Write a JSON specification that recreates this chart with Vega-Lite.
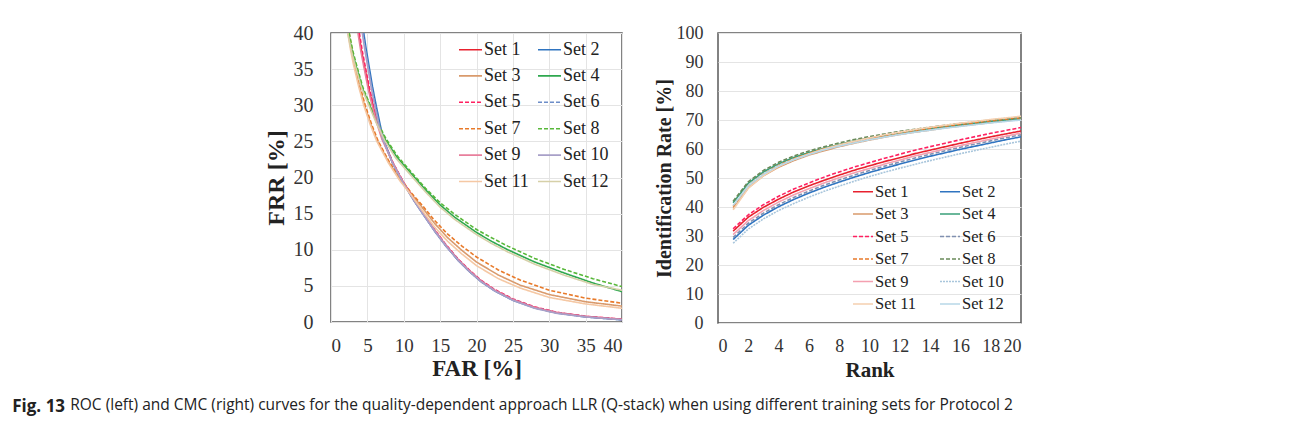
{
"$schema": "https://vega.github.io/schema/vega-lite/v6.json",
"padding": {"left": 12, "top": 22, "right": 5, "bottom": 5},
"background": "white",
"title": {"text": "ROC (left) and CMC (right) curves for the quality-dependent approach LLR (Q-stack) when using different training sets for Protocol 2", "orient": "bottom", "anchor": "start", "font": "Open Sans", "fontSize": 15.5, "fontWeight": "normal", "color": "#222", "offset": 0, "dx": 58, "dy": -16.5},
"datasets": {
"roc": [
{"s":"Set 1","x":3.8,"y":40},{"s":"Set 1","x":4.2,"y":37.5},{"s":"Set 1","x":4.6,"y":35.4},{"s":"Set 1","x":5.2,"y":32.3},{"s":"Set 1","x":5.7,"y":30.2},{"s":"Set 1","x":6.4,"y":27.5},{"s":"Set 1","x":7.1,"y":25.3},{"s":"Set 1","x":8.5,"y":22.0},{"s":"Set 1","x":10,"y":19.2},{"s":"Set 1","x":11.4,"y":16.9},{"s":"Set 1","x":12.8,"y":14.8},{"s":"Set 1","x":14.3,"y":12.6},{"s":"Set 1","x":15.8,"y":10.6},{"s":"Set 1","x":17.5,"y":8.6},{"s":"Set 1","x":19,"y":7.1},{"s":"Set 1","x":20.6,"y":5.7},{"s":"Set 1","x":22.5,"y":4.4},{"s":"Set 1","x":25,"y":3.1},{"s":"Set 1","x":28,"y":2.0},{"s":"Set 1","x":31,"y":1.3},{"s":"Set 1","x":35,"y":0.75},{"s":"Set 1","x":40,"y":0.35},
{"s":"Set 2","x":4.5,"y":40},{"s":"Set 2","x":4.8,"y":38},{"s":"Set 2","x":5.2,"y":35.6},{"s":"Set 2","x":5.7,"y":32.6},{"s":"Set 2","x":6.2,"y":30.0},{"s":"Set 2","x":6.7,"y":27.6},{"s":"Set 2","x":7.2,"y":25.2},{"s":"Set 2","x":8.5,"y":21.9},{"s":"Set 2","x":10,"y":19.1},{"s":"Set 2","x":11.4,"y":16.8},{"s":"Set 2","x":12.8,"y":14.7},{"s":"Set 2","x":14.3,"y":12.5},{"s":"Set 2","x":15.8,"y":10.5},{"s":"Set 2","x":17.5,"y":8.5},{"s":"Set 2","x":19,"y":7.0},{"s":"Set 2","x":20.6,"y":5.6},{"s":"Set 2","x":22.5,"y":4.3},{"s":"Set 2","x":25,"y":3.0},{"s":"Set 2","x":28,"y":1.95},{"s":"Set 2","x":31,"y":1.25},{"s":"Set 2","x":35,"y":0.7},{"s":"Set 2","x":40,"y":0.3},
{"s":"Set 3","x":2.4,"y":40},{"s":"Set 3","x":2.8,"y":37.6},{"s":"Set 3","x":3.2,"y":35.6},{"s":"Set 3","x":3.9,"y":32.6},{"s":"Set 3","x":4.6,"y":30},{"s":"Set 3","x":5.5,"y":27.3},{"s":"Set 3","x":6.4,"y":25},{"s":"Set 3","x":8,"y":22},{"s":"Set 3","x":9.6,"y":19.6},{"s":"Set 3","x":11,"y":17.8},{"s":"Set 3","x":12.5,"y":15.9},{"s":"Set 3","x":14.2,"y":13.7},{"s":"Set 3","x":16,"y":11.7},{"s":"Set 3","x":18,"y":9.9},{"s":"Set 3","x":20,"y":8.3},{"s":"Set 3","x":23,"y":6.5},{"s":"Set 3","x":26,"y":5.1},{"s":"Set 3","x":30,"y":3.8},{"s":"Set 3","x":35,"y":2.8},{"s":"Set 3","x":40,"y":2.2},
{"s":"Set 4","x":2.4,"y":40},{"s":"Set 4","x":2.9,"y":37.5},{"s":"Set 4","x":3.4,"y":35.6},{"s":"Set 4","x":4.3,"y":32.4},{"s":"Set 4","x":5.3,"y":30},{"s":"Set 4","x":6.3,"y":27.6},{"s":"Set 4","x":7.5,"y":25.2},{"s":"Set 4","x":9,"y":22.9},{"s":"Set 4","x":11.5,"y":20},{"s":"Set 4","x":13,"y":18.3},{"s":"Set 4","x":15,"y":16.2},{"s":"Set 4","x":17,"y":14.5},{"s":"Set 4","x":20,"y":12.4},{"s":"Set 4","x":22,"y":11.2},{"s":"Set 4","x":24.3,"y":10},{"s":"Set 4","x":28,"y":8.3},{"s":"Set 4","x":32,"y":6.8},{"s":"Set 4","x":36,"y":5.4},{"s":"Set 4","x":40,"y":4.2},
{"s":"Set 5","x":3.9,"y":40},{"s":"Set 5","x":4.3,"y":37.5},{"s":"Set 5","x":4.7,"y":35.4},{"s":"Set 5","x":5.3,"y":32.3},{"s":"Set 5","x":5.8,"y":30.2},{"s":"Set 5","x":6.5,"y":27.5},{"s":"Set 5","x":7.1,"y":25.4},{"s":"Set 5","x":8.5,"y":22.1},{"s":"Set 5","x":10,"y":19.3},{"s":"Set 5","x":11.4,"y":17.0},{"s":"Set 5","x":12.8,"y":14.9},{"s":"Set 5","x":14.3,"y":12.7},{"s":"Set 5","x":15.8,"y":10.7},{"s":"Set 5","x":17.5,"y":8.7},{"s":"Set 5","x":19,"y":7.2},{"s":"Set 5","x":20.6,"y":5.8},{"s":"Set 5","x":22.5,"y":4.5},{"s":"Set 5","x":25,"y":3.2},{"s":"Set 5","x":28,"y":2.1},{"s":"Set 5","x":31,"y":1.35},{"s":"Set 5","x":35,"y":0.8},{"s":"Set 5","x":40,"y":0.4},
{"s":"Set 6","x":4.4,"y":40},{"s":"Set 6","x":4.7,"y":38},{"s":"Set 6","x":5.1,"y":35.6},{"s":"Set 6","x":5.6,"y":32.6},{"s":"Set 6","x":6.1,"y":30},{"s":"Set 6","x":6.6,"y":27.6},{"s":"Set 6","x":7.2,"y":25.3},{"s":"Set 6","x":8.5,"y":22.0},{"s":"Set 6","x":10,"y":19.2},{"s":"Set 6","x":11.4,"y":16.9},{"s":"Set 6","x":12.8,"y":14.8},{"s":"Set 6","x":14.3,"y":12.6},{"s":"Set 6","x":15.8,"y":10.6},{"s":"Set 6","x":17.5,"y":8.6},{"s":"Set 6","x":19,"y":7.1},{"s":"Set 6","x":20.6,"y":5.7},{"s":"Set 6","x":22.5,"y":4.4},{"s":"Set 6","x":25,"y":3.1},{"s":"Set 6","x":28,"y":2.0},{"s":"Set 6","x":31,"y":1.3},{"s":"Set 6","x":35,"y":0.75},{"s":"Set 6","x":40,"y":0.35},
{"s":"Set 7","x":2.5,"y":40},{"s":"Set 7","x":2.9,"y":37.6},{"s":"Set 7","x":3.3,"y":35.6},{"s":"Set 7","x":4.0,"y":32.6},{"s":"Set 7","x":4.7,"y":30},{"s":"Set 7","x":5.6,"y":27.3},{"s":"Set 7","x":6.5,"y":25},{"s":"Set 7","x":8.1,"y":22},{"s":"Set 7","x":9.7,"y":19.7},{"s":"Set 7","x":11,"y":17.9},{"s":"Set 7","x":12.5,"y":16.2},{"s":"Set 7","x":14.2,"y":14.1},{"s":"Set 7","x":16,"y":12.2},{"s":"Set 7","x":18,"y":10.5},{"s":"Set 7","x":20,"y":9.0},{"s":"Set 7","x":23,"y":7.2},{"s":"Set 7","x":26,"y":5.8},{"s":"Set 7","x":30,"y":4.4},{"s":"Set 7","x":35,"y":3.3},{"s":"Set 7","x":40,"y":2.6},
{"s":"Set 8","x":2.5,"y":40},{"s":"Set 8","x":3.0,"y":37.5},{"s":"Set 8","x":3.5,"y":35.6},{"s":"Set 8","x":4.4,"y":32.4},{"s":"Set 8","x":5.4,"y":30},{"s":"Set 8","x":6.4,"y":27.6},{"s":"Set 8","x":7.6,"y":25.3},{"s":"Set 8","x":9.1,"y":23},{"s":"Set 8","x":11.5,"y":20.2},{"s":"Set 8","x":13,"y":18.5},{"s":"Set 8","x":15,"y":16.5},{"s":"Set 8","x":17,"y":14.9},{"s":"Set 8","x":20,"y":12.8},{"s":"Set 8","x":22,"y":11.7},{"s":"Set 8","x":24.3,"y":10.5},{"s":"Set 8","x":28,"y":8.8},{"s":"Set 8","x":32,"y":7.3},{"s":"Set 8","x":36,"y":6.0},{"s":"Set 8","x":40,"y":4.9},
{"s":"Set 9","x":3.7,"y":40},{"s":"Set 9","x":4.1,"y":37.5},{"s":"Set 9","x":4.5,"y":35.4},{"s":"Set 9","x":5.1,"y":32.3},{"s":"Set 9","x":5.6,"y":30.2},{"s":"Set 9","x":6.3,"y":27.5},{"s":"Set 9","x":7.0,"y":25.3},{"s":"Set 9","x":8.5,"y":22.0},{"s":"Set 9","x":10,"y":19.2},{"s":"Set 9","x":11.4,"y":16.9},{"s":"Set 9","x":12.8,"y":14.8},{"s":"Set 9","x":14.3,"y":12.6},{"s":"Set 9","x":15.8,"y":10.6},{"s":"Set 9","x":17.5,"y":8.6},{"s":"Set 9","x":19,"y":7.1},{"s":"Set 9","x":20.6,"y":5.7},{"s":"Set 9","x":22.5,"y":4.4},{"s":"Set 9","x":25,"y":3.1},{"s":"Set 9","x":28,"y":2.0},{"s":"Set 9","x":31,"y":1.3},{"s":"Set 9","x":35,"y":0.75},{"s":"Set 9","x":40,"y":0.35},
{"s":"Set 10","x":4.3,"y":40},{"s":"Set 10","x":4.6,"y":38},{"s":"Set 10","x":5.0,"y":35.6},{"s":"Set 10","x":5.5,"y":32.6},{"s":"Set 10","x":6.0,"y":30},{"s":"Set 10","x":6.5,"y":27.6},{"s":"Set 10","x":7.1,"y":25.3},{"s":"Set 10","x":8.5,"y":21.9},{"s":"Set 10","x":10,"y":19.1},{"s":"Set 10","x":11.4,"y":16.8},{"s":"Set 10","x":12.8,"y":14.7},{"s":"Set 10","x":14.3,"y":12.5},{"s":"Set 10","x":15.8,"y":10.5},{"s":"Set 10","x":17.5,"y":8.5},{"s":"Set 10","x":19,"y":7.0},{"s":"Set 10","x":20.6,"y":5.6},{"s":"Set 10","x":22.5,"y":4.3},{"s":"Set 10","x":25,"y":3.0},{"s":"Set 10","x":28,"y":1.9},{"s":"Set 10","x":31,"y":1.2},{"s":"Set 10","x":35,"y":0.7},{"s":"Set 10","x":40,"y":0.3},
{"s":"Set 11","x":2.3,"y":40},{"s":"Set 11","x":2.7,"y":37.6},{"s":"Set 11","x":3.1,"y":35.6},{"s":"Set 11","x":3.8,"y":32.6},{"s":"Set 11","x":4.5,"y":30},{"s":"Set 11","x":5.4,"y":27.3},{"s":"Set 11","x":6.3,"y":25},{"s":"Set 11","x":7.9,"y":22},{"s":"Set 11","x":9.5,"y":19.5},{"s":"Set 11","x":11,"y":17.6},{"s":"Set 11","x":12.5,"y":15.5},{"s":"Set 11","x":14.2,"y":13.2},{"s":"Set 11","x":16,"y":11.2},{"s":"Set 11","x":18,"y":9.4},{"s":"Set 11","x":20,"y":7.8},{"s":"Set 11","x":23,"y":6.0},{"s":"Set 11","x":26,"y":4.7},{"s":"Set 11","x":30,"y":3.4},{"s":"Set 11","x":35,"y":2.5},{"s":"Set 11","x":40,"y":1.9},
{"s":"Set 12","x":2.3,"y":40},{"s":"Set 12","x":2.8,"y":37.5},{"s":"Set 12","x":3.3,"y":35.6},{"s":"Set 12","x":4.2,"y":32.4},{"s":"Set 12","x":5.2,"y":30},{"s":"Set 12","x":6.2,"y":27.6},{"s":"Set 12","x":7.4,"y":25.1},{"s":"Set 12","x":8.9,"y":22.7},{"s":"Set 12","x":11.5,"y":19.7},{"s":"Set 12","x":13,"y":18},{"s":"Set 12","x":15,"y":15.9},{"s":"Set 12","x":17,"y":14.2},{"s":"Set 12","x":20,"y":12.1},{"s":"Set 12","x":22,"y":10.9},{"s":"Set 12","x":24.3,"y":9.7},{"s":"Set 12","x":28,"y":8.0},{"s":"Set 12","x":32,"y":6.5},{"s":"Set 12","x":36,"y":5.2},{"s":"Set 12","x":40,"y":4.4}
],
"cmc": [
{"s":"Set 1","r":1,"v":31.7},{"s":"Set 1","r":2,"v":36.5},{"s":"Set 1","r":3,"v":39.9},{"s":"Set 1","r":4,"v":42.7},{"s":"Set 1","r":5,"v":45.2},{"s":"Set 1","r":6,"v":47.3},{"s":"Set 1","r":7,"v":49.2},{"s":"Set 1","r":8,"v":51.0},{"s":"Set 1","r":9,"v":52.7},{"s":"Set 1","r":10,"v":54.2},{"s":"Set 1","r":11,"v":55.7},{"s":"Set 1","r":12,"v":57.0},{"s":"Set 1","r":13,"v":58.4},{"s":"Set 1","r":14,"v":59.6},{"s":"Set 1","r":15,"v":60.8},{"s":"Set 1","r":16,"v":62.0},{"s":"Set 1","r":17,"v":63.1},{"s":"Set 1","r":18,"v":64.2},{"s":"Set 1","r":19,"v":65.2},{"s":"Set 1","r":20,"v":66.2},
{"s":"Set 2","r":1,"v":28.8},{"s":"Set 2","r":2,"v":33.7},{"s":"Set 2","r":3,"v":37.2},{"s":"Set 2","r":4,"v":40.1},{"s":"Set 2","r":5,"v":42.6},{"s":"Set 2","r":6,"v":44.8},{"s":"Set 2","r":7,"v":46.8},{"s":"Set 2","r":8,"v":48.6},{"s":"Set 2","r":9,"v":50.3},{"s":"Set 2","r":10,"v":51.9},{"s":"Set 2","r":11,"v":53.4},{"s":"Set 2","r":12,"v":54.8},{"s":"Set 2","r":13,"v":56.2},{"s":"Set 2","r":14,"v":57.5},{"s":"Set 2","r":15,"v":58.7},{"s":"Set 2","r":16,"v":59.9},{"s":"Set 2","r":17,"v":61.0},{"s":"Set 2","r":18,"v":62.1},{"s":"Set 2","r":19,"v":63.2},{"s":"Set 2","r":20,"v":64.2},
{"s":"Set 3","r":1,"v":39.5},{"s":"Set 3","r":2,"v":46.6},{"s":"Set 3","r":3,"v":50.8},{"s":"Set 3","r":4,"v":53.7},{"s":"Set 3","r":5,"v":56.0},{"s":"Set 3","r":6,"v":57.9},{"s":"Set 3","r":7,"v":59.4},{"s":"Set 3","r":8,"v":60.8},{"s":"Set 3","r":9,"v":62.0},{"s":"Set 3","r":10,"v":63.1},{"s":"Set 3","r":11,"v":64.1},{"s":"Set 3","r":12,"v":65.0},{"s":"Set 3","r":13,"v":65.8},{"s":"Set 3","r":14,"v":66.5},{"s":"Set 3","r":15,"v":67.3},{"s":"Set 3","r":16,"v":67.9},{"s":"Set 3","r":17,"v":68.5},{"s":"Set 3","r":18,"v":69.1},{"s":"Set 3","r":19,"v":69.7},{"s":"Set 3","r":20,"v":70.2},
{"s":"Set 4","r":1,"v":41.5},{"s":"Set 4","r":2,"v":48.2},{"s":"Set 4","r":3,"v":52.1},{"s":"Set 4","r":4,"v":54.9},{"s":"Set 4","r":5,"v":57.1},{"s":"Set 4","r":6,"v":58.8},{"s":"Set 4","r":7,"v":60.3},{"s":"Set 4","r":8,"v":61.6},{"s":"Set 4","r":9,"v":62.8},{"s":"Set 4","r":10,"v":63.8},{"s":"Set 4","r":11,"v":64.7},{"s":"Set 4","r":12,"v":65.6},{"s":"Set 4","r":13,"v":66.3},{"s":"Set 4","r":14,"v":67.1},{"s":"Set 4","r":15,"v":67.7},{"s":"Set 4","r":16,"v":68.3},{"s":"Set 4","r":17,"v":68.9},{"s":"Set 4","r":18,"v":69.5},{"s":"Set 4","r":19,"v":70.0},{"s":"Set 4","r":20,"v":70.5},
{"s":"Set 5","r":1,"v":32.5},{"s":"Set 5","r":2,"v":37.3},{"s":"Set 5","r":3,"v":40.8},{"s":"Set 5","r":4,"v":43.7},{"s":"Set 5","r":5,"v":46.2},{"s":"Set 5","r":6,"v":48.3},{"s":"Set 5","r":7,"v":50.3},{"s":"Set 5","r":8,"v":52.1},{"s":"Set 5","r":9,"v":53.8},{"s":"Set 5","r":10,"v":55.3},{"s":"Set 5","r":11,"v":56.8},{"s":"Set 5","r":12,"v":58.2},{"s":"Set 5","r":13,"v":59.6},{"s":"Set 5","r":14,"v":60.8},{"s":"Set 5","r":15,"v":62.0},{"s":"Set 5","r":16,"v":63.2},{"s":"Set 5","r":17,"v":64.3},{"s":"Set 5","r":18,"v":65.4},{"s":"Set 5","r":19,"v":66.4},{"s":"Set 5","r":20,"v":67.4},
{"s":"Set 6","r":1,"v":29.5},{"s":"Set 6","r":2,"v":34.4},{"s":"Set 6","r":3,"v":37.9},{"s":"Set 6","r":4,"v":40.8},{"s":"Set 6","r":5,"v":43.3},{"s":"Set 6","r":6,"v":45.5},{"s":"Set 6","r":7,"v":47.5},{"s":"Set 6","r":8,"v":49.3},{"s":"Set 6","r":9,"v":51.0},{"s":"Set 6","r":10,"v":52.6},{"s":"Set 6","r":11,"v":54.1},{"s":"Set 6","r":12,"v":55.5},{"s":"Set 6","r":13,"v":56.9},{"s":"Set 6","r":14,"v":58.2},{"s":"Set 6","r":15,"v":59.4},{"s":"Set 6","r":16,"v":60.6},{"s":"Set 6","r":17,"v":61.7},{"s":"Set 6","r":18,"v":62.8},{"s":"Set 6","r":19,"v":63.9},{"s":"Set 6","r":20,"v":64.9},
{"s":"Set 7","r":1,"v":40.2},{"s":"Set 7","r":2,"v":47.3},{"s":"Set 7","r":3,"v":51.4},{"s":"Set 7","r":4,"v":54.4},{"s":"Set 7","r":5,"v":56.6},{"s":"Set 7","r":6,"v":58.5},{"s":"Set 7","r":7,"v":60.1},{"s":"Set 7","r":8,"v":61.4},{"s":"Set 7","r":9,"v":62.6},{"s":"Set 7","r":10,"v":63.7},{"s":"Set 7","r":11,"v":64.7},{"s":"Set 7","r":12,"v":65.6},{"s":"Set 7","r":13,"v":66.4},{"s":"Set 7","r":14,"v":67.2},{"s":"Set 7","r":15,"v":67.9},{"s":"Set 7","r":16,"v":68.5},{"s":"Set 7","r":17,"v":69.1},{"s":"Set 7","r":18,"v":69.7},{"s":"Set 7","r":19,"v":70.3},{"s":"Set 7","r":20,"v":70.8},
{"s":"Set 8","r":1,"v":42.0},{"s":"Set 8","r":2,"v":48.7},{"s":"Set 8","r":3,"v":52.6},{"s":"Set 8","r":4,"v":55.4},{"s":"Set 8","r":5,"v":57.6},{"s":"Set 8","r":6,"v":59.3},{"s":"Set 8","r":7,"v":60.8},{"s":"Set 8","r":8,"v":62.1},{"s":"Set 8","r":9,"v":63.3},{"s":"Set 8","r":10,"v":64.3},{"s":"Set 8","r":11,"v":65.2},{"s":"Set 8","r":12,"v":66.1},{"s":"Set 8","r":13,"v":66.8},{"s":"Set 8","r":14,"v":67.5},{"s":"Set 8","r":15,"v":68.2},{"s":"Set 8","r":16,"v":68.8},{"s":"Set 8","r":17,"v":69.4},{"s":"Set 8","r":18,"v":70.0},{"s":"Set 8","r":19,"v":70.5},{"s":"Set 8","r":20,"v":71.0},
{"s":"Set 9","r":1,"v":30.5},{"s":"Set 9","r":2,"v":35.3},{"s":"Set 9","r":3,"v":38.8},{"s":"Set 9","r":4,"v":41.7},{"s":"Set 9","r":5,"v":44.2},{"s":"Set 9","r":6,"v":46.3},{"s":"Set 9","r":7,"v":48.3},{"s":"Set 9","r":8,"v":50.1},{"s":"Set 9","r":9,"v":51.8},{"s":"Set 9","r":10,"v":53.3},{"s":"Set 9","r":11,"v":54.8},{"s":"Set 9","r":12,"v":56.2},{"s":"Set 9","r":13,"v":57.6},{"s":"Set 9","r":14,"v":58.8},{"s":"Set 9","r":15,"v":60.0},{"s":"Set 9","r":16,"v":61.2},{"s":"Set 9","r":17,"v":62.3},{"s":"Set 9","r":18,"v":63.4},{"s":"Set 9","r":19,"v":64.4},{"s":"Set 9","r":20,"v":65.5},
{"s":"Set 10","r":1,"v":27.5},{"s":"Set 10","r":2,"v":32.4},{"s":"Set 10","r":3,"v":35.9},{"s":"Set 10","r":4,"v":38.8},{"s":"Set 10","r":5,"v":41.2},{"s":"Set 10","r":6,"v":43.4},{"s":"Set 10","r":7,"v":45.4},{"s":"Set 10","r":8,"v":47.2},{"s":"Set 10","r":9,"v":48.9},{"s":"Set 10","r":10,"v":50.5},{"s":"Set 10","r":11,"v":52.0},{"s":"Set 10","r":12,"v":53.4},{"s":"Set 10","r":13,"v":54.7},{"s":"Set 10","r":14,"v":56.0},{"s":"Set 10","r":15,"v":57.2},{"s":"Set 10","r":16,"v":58.4},{"s":"Set 10","r":17,"v":59.5},{"s":"Set 10","r":18,"v":60.6},{"s":"Set 10","r":19,"v":61.7},{"s":"Set 10","r":20,"v":62.7},
{"s":"Set 11","r":1,"v":39.0},{"s":"Set 11","r":2,"v":46.5},{"s":"Set 11","r":3,"v":50.8},{"s":"Set 11","r":4,"v":54.0},{"s":"Set 11","r":5,"v":56.4},{"s":"Set 11","r":6,"v":58.3},{"s":"Set 11","r":7,"v":60.0},{"s":"Set 11","r":8,"v":61.4},{"s":"Set 11","r":9,"v":62.7},{"s":"Set 11","r":10,"v":63.8},{"s":"Set 11","r":11,"v":64.9},{"s":"Set 11","r":12,"v":65.8},{"s":"Set 11","r":13,"v":66.7},{"s":"Set 11","r":14,"v":67.5},{"s":"Set 11","r":15,"v":68.2},{"s":"Set 11","r":16,"v":68.9},{"s":"Set 11","r":17,"v":69.5},{"s":"Set 11","r":18,"v":70.2},{"s":"Set 11","r":19,"v":70.7},{"s":"Set 11","r":20,"v":71.3},
{"s":"Set 12","r":1,"v":40.5},{"s":"Set 12","r":2,"v":47.3},{"s":"Set 12","r":3,"v":51.3},{"s":"Set 12","r":4,"v":54.2},{"s":"Set 12","r":5,"v":56.3},{"s":"Set 12","r":6,"v":58.1},{"s":"Set 12","r":7,"v":59.7},{"s":"Set 12","r":8,"v":61.0},{"s":"Set 12","r":9,"v":62.1},{"s":"Set 12","r":10,"v":63.2},{"s":"Set 12","r":11,"v":64.1},{"s":"Set 12","r":12,"v":65.0},{"s":"Set 12","r":13,"v":65.8},{"s":"Set 12","r":14,"v":66.5},{"s":"Set 12","r":15,"v":67.2},{"s":"Set 12","r":16,"v":67.8},{"s":"Set 12","r":17,"v":68.4},{"s":"Set 12","r":18,"v":69.0},{"s":"Set 12","r":19,"v":69.5},{"s":"Set 12","r":20,"v":70.0}
]
},
"vconcat": [
{
"title": {"text": "Fig. 13", "orient": "bottom", "anchor": "start", "font": "Open Sans", "fontSize": 17, "fontWeight": "bold", "color": "#222", "offset": 18, "dx": -251},
"spacing": 30,
"resolve": {"scale": {"color": "independent", "strokeDash": "independent"}, "legend": {"color": "independent", "strokeDash": "independent"}},
"hconcat": [
{
"width": 291, "height": 289,
"data": {"name": "roc"},
"mark": {"type": "line", "strokeWidth": 1.6, "clip": true},
"encoding": {
"x": {"field": "x", "type": "quantitative", "scale": {"domain": [0, 40], "nice": false, "zero": false}, "axis": {"values": [0,5,10,15,20,25,30,35,40], "title": "FAR [%]", "titleFontSize": 23, "labelFontSize": 19, "labelPadding": 14, "titlePadding": 2, "grid": true}},
"y": {"field": "y", "type": "quantitative", "scale": {"domain": [0, 40], "nice": false, "zero": false}, "axis": {"values": [0,5,10,15,20,25,30,35,40], "title": "FRR [%]", "titleFontSize": 24, "labelFontSize": 20, "labelPadding": 18, "titlePadding": 5, "grid": true}},
"color": {"field": "s", "type": "nominal",
 "scale": {"domain": ["Set 1","Set 2","Set 3","Set 4","Set 5","Set 6","Set 7","Set 8","Set 9","Set 10","Set 11","Set 12"],
  "range": ["#e8212e","#2f74c0","#d99a6c","#2fa84f","#ff2060","#6d8dc8","#e87a2a","#58b83a","#e87f9c","#a8a0c8","#f5c8a4","#d6d0a8"]},
 "legend": {"title": null, "orient": "none", "legendX": 127, "legendY": 4, "columns": 2, "direction": "horizontal", "symbolType": "stroke", "symbolSize": 529, "symbolStrokeWidth": 1.6, "labelFont": "Liberation Serif", "labelFontSize": 18, "labelColor": "#222", "labelOffset": 1, "columnPadding": 5, "rowPadding": 4.4, "labelLimit": 100}},
"strokeDash": {"field": "s", "type": "nominal",
 "scale": {"domain": ["Set 1","Set 2","Set 3","Set 4","Set 5","Set 6","Set 7","Set 8","Set 9","Set 10","Set 11","Set 12"],
  "range": [[1,0],[1,0],[1,0],[1,0],[4,2],[4,2],[4,2],[4,2],[1,0],[1,0],[1,0],[1,0]]},
 "legend": {"title": null, "orient": "none", "legendX": 127, "legendY": 4, "columns": 2, "direction": "horizontal", "symbolType": "stroke", "symbolSize": 529, "symbolStrokeWidth": 1.6, "labelFont": "Liberation Serif", "labelFontSize": 18, "labelColor": "#222", "labelOffset": 1, "columnPadding": 5, "rowPadding": 4.4, "labelLimit": 100}}
}
},
{
"width": 303, "height": 290,
"data": {"name": "cmc"},
"mark": {"type": "line", "strokeWidth": 1.6, "clip": true},
"encoding": {
"x": {"field": "r", "type": "quantitative", "scale": {"domain": [0, 20], "nice": false}, "axis": {"values": [0,2,4,6,8,10,12,14,16,18,20], "title": "Rank", "titleFontSize": 21, "labelFontSize": 18, "labelPadding": 14, "titlePadding": 4, "grid": false}},
"y": {"field": "v", "type": "quantitative", "scale": {"domain": [0, 100], "nice": false}, "axis": {"values": [0,10,20,30,40,50,60,70,80,90,100], "title": "Identification Rate [%]", "titleFontSize": 20, "labelFontSize": 18, "labelPadding": 15, "titlePadding": 2, "grid": true}},
"color": {"field": "s", "type": "nominal",
 "scale": {"domain": ["Set 1","Set 2","Set 3","Set 4","Set 5","Set 6","Set 7","Set 8","Set 9","Set 10","Set 11","Set 12"],
  "range": ["#e8212e","#2f74c0","#d99a6c","#3aa07a","#ff2060","#8090b0","#e87a2a","#6a8a5a","#f4a0b0","#a9c6dc","#f5d0b0","#b8d8e8"]},
 "legend": {"title": null, "orient": "none", "legendX": 134, "legendY": 147.5, "columns": 2, "direction": "horizontal", "symbolType": "stroke", "symbolSize": 400, "symbolStrokeWidth": 1.6, "labelFont": "Liberation Serif", "labelFontSize": 16.5, "labelColor": "#222", "labelOffset": 1, "columnPadding": 19, "rowPadding": 2.5, "labelLimit": 100}},
"strokeDash": {"field": "s", "type": "nominal",
 "scale": {"domain": ["Set 1","Set 2","Set 3","Set 4","Set 5","Set 6","Set 7","Set 8","Set 9","Set 10","Set 11","Set 12"],
  "range": [[1,0],[1,0],[1,0],[1,0],[4,2],[4,2],[4,2],[4,2],[1,0],[2,1],[1,0],[1,0]]},
 "legend": {"title": null, "orient": "none", "legendX": 134, "legendY": 147.5, "columns": 2, "direction": "horizontal", "symbolType": "stroke", "symbolSize": 400, "symbolStrokeWidth": 1.6, "labelFont": "Liberation Serif", "labelFontSize": 16.5, "labelColor": "#222", "labelOffset": 1, "columnPadding": 19, "rowPadding": 2.5, "labelLimit": 100}}
}
}
]
}
],
"config": {
"view": {"stroke": "#595959", "strokeWidth": 1.5},
"axis": {"labelFont": "Liberation Serif", "labelFontSize": 18, "labelColor": "#333", "titleFont": "Liberation Serif", "titleFontWeight": "bold", "titleColor": "#222", "ticks": false, "domain": false, "gridColor": "#e4e4e4", "gridWidth": 1}
}
}
